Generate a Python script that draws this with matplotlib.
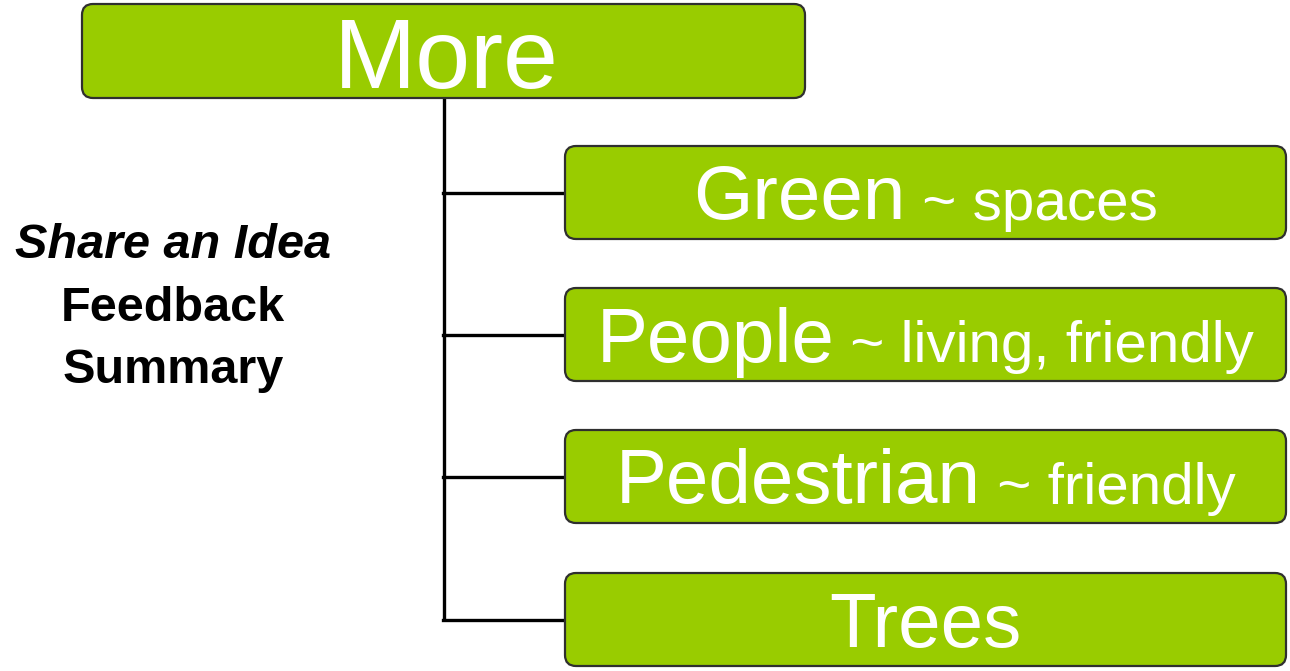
import matplotlib.pyplot as plt
from matplotlib.patches import FancyBboxPatch

plt.rcParams['font.family'] = ['Liberation Sans', 'DejaVu Sans']

# --- content ---
root_label = "More"
main_words = ["Green", "People", "Pedestrian", "Trees"]
sub_words = ["~ spaces", "~ living, friendly", "~ friendly", ""]
side_lines = ["Share an Idea", "Feedback", "Summary"]
side_styles = ["italic", "normal", "normal"]

green = "#99cc00"
edge = "#2f2f2f"

# layout in pixels (axes spans whole figure, 1 unit = 1 px)
root_box = (82, 4, 723, 94)          # x, y, w, h
child_x, child_w, child_h = 565, 721, 93
child_y = [146, 288, 430, 573]
trunk_x = 444
side_base = [258, 321, 383]

fig = plt.figure(figsize=(12.9, 6.71), dpi=100)
ax = fig.add_axes([0, 0, 1, 1])
ax.set_xlim(0, 1290)
ax.set_ylim(671, 0)
ax.axis('off')


def rbox(x, y, w, h):
    p = FancyBboxPatch((x, y), w, h, boxstyle="round,pad=0,rounding_size=11",
                       facecolor=green, edgecolor=edge, linewidth=1.6, zorder=3)
    ax.add_patch(p)


# connector lines
ax.plot([trunk_x, trunk_x], [root_box[1] + root_box[3], child_y[-1] + child_h / 2],
        color='black', lw=2.4, zorder=1, solid_capstyle='butt')
for y in child_y:
    ax.plot([trunk_x - 1, child_x], [y + child_h / 2] * 2, color='black', lw=2.4, zorder=1)

# root
rbox(*root_box)
ax.text(root_box[0] + root_box[2] / 2 + 3, root_box[1] + root_box[3] / 2 + 37, root_label,
        color='white', fontsize=71, ha='center', va='baseline', zorder=4)

# children
renderer = fig.canvas.get_renderer()
for y, main, sub in zip(child_y, main_words, sub_words):
    rbox(child_x, y, child_w, child_h)
    base = y + child_h / 2 + 27
    t1 = ax.text(0, base, main, color='white', fontsize=55, va='baseline', ha='left', zorder=4)
    w1 = t1.get_window_extent(renderer).width
    w2 = 0
    t2 = None
    if sub:
        t2 = ax.text(0, base, " " + sub, color='white', fontsize=42, va='baseline', ha='left', zorder=4)
        w2 = t2.get_window_extent(renderer).width
    x0 = child_x + child_w / 2 - (w1 + w2) / 2
    t1.set_x(x0)
    if t2 is not None:
        t2.set_x(x0 + w1)

# side caption
for line, style, yb in zip(side_lines, side_styles, side_base):
    ax.text(173, yb, line, fontsize=35, fontweight='bold', fontstyle=style,
            ha='center', va='baseline', color='black')

fig.savefig("out.png", dpi=100)
